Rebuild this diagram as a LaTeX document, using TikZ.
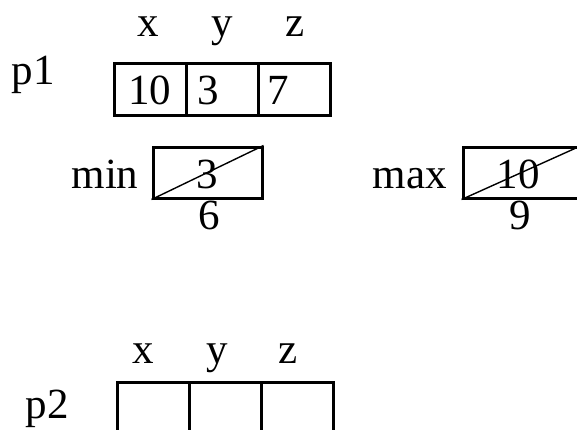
\documentclass[tikz,border=0pt]{standalone}
\usepackage{fontspec}
\setmainfont{Liberation Serif}
\usetikzlibrary{positioning}
\tikzset{
  mem/cell/.style={rectangle, draw=black, line width=3pt,
    minimum width=72pt, minimum height=52pt, inner sep=0pt},
  mem/var/.style={rectangle, draw=black, line width=3pt,
    minimum height=51pt, inner sep=0pt},
  mem/txt/.style={font=\fontsize{43}{50}\selectfont, inner sep=0pt,
    anchor=base},
  mem/val/.style={mem/txt, anchor=base west},
  mem/cross/.style={line width=1.4pt}
}

\begin{document}
\begin{tikzpicture}[x=1pt, y=-1pt]
    \useasboundingbox (0,0) rectangle (577,429);
    % object p1
    \node[mem/txt] (p1) at (33,84) {p1};
    \node[mem/cell] (p1x) at (150,89) {};
    \node[mem/cell] (p1y) at (222,89) {};
    \node[mem/cell] (p1z) at (294,89) {};
    \node[mem/txt] (p1xl) at (148,36) {x};
    \node[mem/txt] (p1yl) at (222,36) {y};
    \node[mem/txt] (p1zl) at (295,36) {z};
    \node[mem/val] (p1xv) at (128,104) {10};
    \node[mem/val] (p1yv) at (197,104) {3};
    \node[mem/val] (p1zv) at (267,104) {7};
    % min and max
    \node[mem/txt] (minl) at (105,188) {min};
    \node[mem/var, minimum width=109pt] (minb) at (207.5,172.5) {};
    \node[mem/txt] (minold) at (207,188) {3};
    \draw[mem/cross] (minb.south west) -- (minb.north east);
    \node[mem/txt] (minnew) at (209,229) {6};
    \node[mem/txt] (maxl) at (410,188) {max};
    \node[mem/var, minimum width=117pt] (maxb) at (521.5,172.5) {};
    \node[mem/txt] (maxold) at (518,188) {10};
    \draw[mem/cross] (maxb.south west) -- (maxb.north east);
    \node[mem/txt] (maxnew) at (520,229) {9};
    % object p2
    \node[mem/txt] (p2) at (47,418) {p2};
    \node[mem/cell, minimum height=60pt] (p2x) at (153,412) {};
    \node[mem/cell, minimum height=60pt] (p2y) at (225,412) {};
    \node[mem/cell, minimum height=60pt] (p2z) at (297,412) {};
    \node[mem/txt] (p2xl) at (143,363) {x};
    \node[mem/txt] (p2yl) at (217,363) {y};
    \node[mem/txt] (p2zl) at (288,363) {z};
\end{tikzpicture}
\end{document}
